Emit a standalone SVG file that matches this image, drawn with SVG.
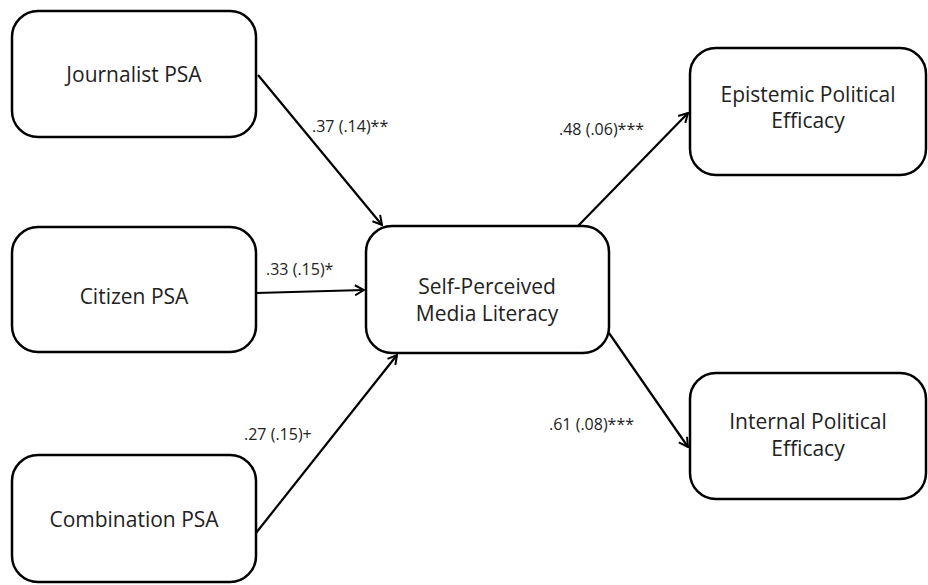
<svg xmlns="http://www.w3.org/2000/svg" width="928" height="585" viewBox="0 0 928 585">
<style>
.box{fill:#fff;stroke:#000;stroke-width:2.5}
.lbl{font-family:"Open Sans","Liberation Sans",sans-serif;font-size:21px;fill:#222;text-anchor:middle}
.coef{font-family:"Open Sans","Liberation Sans",sans-serif;font-size:16px;fill:#222}
.edge{stroke:#000;stroke-width:2.2;fill:none;marker-end:url(#arr)}
</style>
<defs>
<marker id="arr" viewBox="0 0 12 12" refX="11" refY="6" markerWidth="12" markerHeight="12" markerUnits="userSpaceOnUse" orient="auto">
<polyline points="2,1 11,6 2,11" fill="none" stroke="#000" stroke-width="2"/>
</marker>
</defs>
<rect width="928" height="585" fill="#fff"/>
<g id="connectors">
<line class="edge" x1="258" y1="75" x2="382" y2="225"/>
<line class="edge" x1="256" y1="293" x2="364" y2="290"/>
<line class="edge" x1="256" y1="533" x2="397" y2="355"/>
<line class="edge" x1="578" y1="226" x2="688" y2="113"/>
<line class="edge" x1="609" y1="333" x2="688" y2="447"/>
<text class="coef" x="312" y="132">.37 (.14)**</text>
<text class="coef" x="266" y="275">.33 (.15)*</text>
<text class="coef" x="244" y="440">.27 (.15)+</text>
<text class="coef" x="559" y="135">.48 (.06)***</text>
<text class="coef" x="549" y="430">.61 (.08)***</text>
</g>
<g id="journalist">
<rect class="box" x="12" y="11" width="244" height="126" rx="26"/>
<text class="lbl" x="134" y="82">Journalist PSA</text>
</g>
<g id="citizen">
<rect class="box" x="12" y="227" width="244" height="125" rx="26"/>
<text class="lbl" x="134" y="304">Citizen PSA</text>
</g>
<g id="combination">
<rect class="box" x="12" y="455" width="244" height="127" rx="26"/>
<text class="lbl" x="134" y="527">Combination PSA</text>
</g>
<g id="media-literacy">
<rect class="box" x="366" y="226" width="243" height="127" rx="26"/>
<text class="lbl" x="487" y="294">Self-Perceived</text>
<text class="lbl" x="487" y="321">Media Literacy</text>
</g>
<g id="epistemic">
<rect class="box" x="690" y="48" width="236" height="127" rx="26"/>
<text class="lbl" x="808" y="102">Epistemic Political</text>
<text class="lbl" x="808" y="128">Efficacy</text>
</g>
<g id="internal">
<rect class="box" x="690" y="373" width="236" height="126" rx="26"/>
<text class="lbl" x="808" y="429">Internal Political</text>
<text class="lbl" x="808" y="456">Efficacy</text>
</g>
</svg>
